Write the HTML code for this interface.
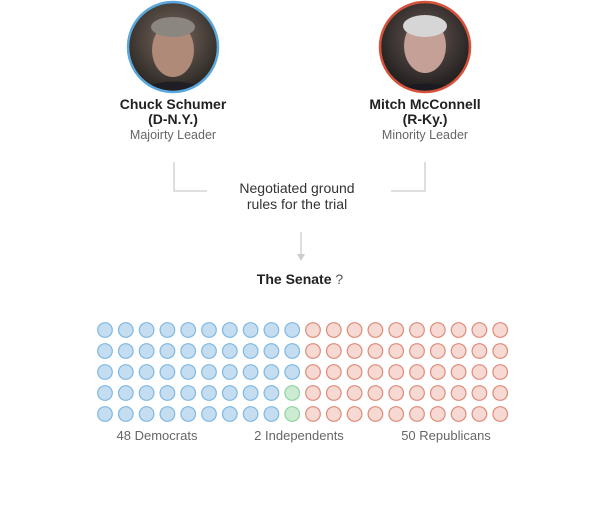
<!DOCTYPE html>
<html><head><meta charset="utf-8"><style>
body{margin:0;background:#fff;width:600px;height:516px;overflow:hidden;font-family:"Liberation Sans",sans-serif}
svg{display:block}
</style></head><body>
<svg id="chart" width="600" height="516">
<defs>
<radialGradient id="g1" cx="50%" cy="40%" r="60%"><stop offset="0" stop-color="#7a6a60"/><stop offset="1" stop-color="#2a2622"/></radialGradient>
<radialGradient id="g2" cx="50%" cy="40%" r="60%"><stop offset="0" stop-color="#6a5a54"/><stop offset="1" stop-color="#1e1c1c"/></radialGradient>
<clipPath id="c1"><circle cx="173" cy="47" r="44"/></clipPath>
<clipPath id="c2"><circle cx="425" cy="47" r="44"/></clipPath>
</defs>
<g>
<g clip-path="url(#c1)">
<circle cx="173" cy="47" r="45" fill="url(#g1)"/>
<ellipse cx="173" cy="50" rx="21" ry="27" fill="#b08a78"/>
<ellipse cx="173" cy="27" rx="22" ry="10" fill="#8c8680"/>
<path d="M128 95 Q173 68 218 95 Z" fill="#1e1e24"/>
</g>
<circle cx="173" cy="47" r="45" fill="none" stroke="#5aa7dc" stroke-width="2.5"/>
</g>
<g>
<g clip-path="url(#c2)">
<circle cx="425" cy="47" r="45" fill="url(#g2)"/>
<ellipse cx="425" cy="46" rx="21" ry="27" fill="#c4a096"/>
<ellipse cx="425" cy="26" rx="22" ry="11" fill="#d6d6d6"/>
<path d="M380 95 Q425 72 470 95 Z" fill="#1a1a22"/>
</g>
<circle cx="425" cy="47" r="45" fill="none" stroke="#d4513a" stroke-width="2.5"/>
</g>
<g font-size="14" font-weight="bold" fill="#222" text-anchor="middle">
<text x="173" y="109">Chuck Schumer</text>
<text x="173" y="124">(D-N.Y.)</text>
<text x="425" y="109">Mitch McConnell</text>
<text x="425" y="124">(R-Ky.)</text>
</g>
<g font-size="12.5" fill="#666" text-anchor="middle">
<text x="173" y="139">Majoirty Leader</text>
<text x="425" y="139">Minority Leader</text>
</g>
<g stroke="#ccc" stroke-width="1.3" fill="none">
<path d="M174 162 V191 H207"/>
<path d="M425 162 V191 H391"/>
<path d="M301 232 V256"/>
</g>
<path d="M297 254 L301 261 L305 254 Z" fill="#ccc"/>
<g font-size="14" fill="#333" text-anchor="middle">
<text x="297" y="193">Negotiated ground</text>
<text x="297" y="209">rules for the trial</text>
</g>
<text x="300" y="284" font-size="14" text-anchor="middle" fill="#222"><tspan font-weight="bold">The Senate</tspan><tspan fill="#555"> ?</tspan></text>
<g id="dots"></g>
<g font-size="13" fill="#666" text-anchor="middle">
<text x="157" y="440">48 Democrats</text>
<text x="299" y="440">2 Independents</text>
<text x="446" y="440">50 Republicans</text>
</g>
</svg>
<script>
const parties = ["Democrats","Independents","Republicans"];
const seats = [48, 2, 50];
const fills = ["#c5ddf1","#cdebd3","#f5d9d2"];
const strokes = ["#7fb8e2","#8fd3a0","#df8a78"];
const g = document.getElementById('dots');
const rows = 5, x0 = 105, y0 = 330, dx = 20.8, dy = 21;
let idx = 0;
parties.forEach((p, pi) => {
  for (let k = 0; k < seats[pi]; k++) {
    const col = Math.floor(idx / rows), row = idx % rows;
    const c = document.createElementNS('http://www.w3.org/2000/svg', 'circle');
    c.setAttribute('cx', x0 + col * dx);
    c.setAttribute('cy', y0 + row * dy);
    c.setAttribute('r', 7.3);
    c.setAttribute('fill', fills[pi]);
    c.setAttribute('stroke', strokes[pi]);
    c.setAttribute('stroke-width', 1.2);
    
    
    g.appendChild(c);
    idx++;
  }
});
</script>
</body></html>
